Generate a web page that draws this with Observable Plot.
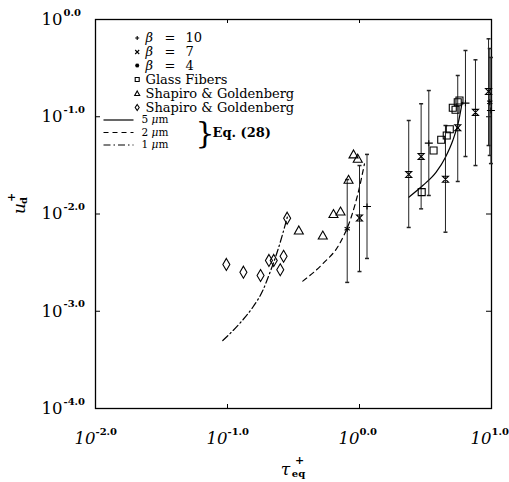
<!DOCTYPE html>
<html><head><meta charset="utf-8">
<script src="https://cdn.jsdelivr.net/npm/d3@7"></script>
<script src="https://cdn.jsdelivr.net/npm/@observablehq/plot@0.6"></script>
<style>body{margin:0;background:#fff} svg{font-family:"DejaVu Serif",serif}</style>
</head><body><div id="chart"></div>
<script>
// ---- tick labels ----
const xTicks = [0.01, 0.1, 1, 10];
const xTickExp = ["-2.0", "-1.0", "0.0", "1.0"];
const yTicks = [1e-4, 1e-3, 1e-2, 1e-1, 1];
const yTickExp = ["-4.0", "-3.0", "-2.0", "-1.0", "0.0"];

// ---- Glass fibers (squares) ----
const glassX = [2.96, 3.64, 4.16, 4.58, 4.83, 5.09, 5.34, 5.55, 5.72];
const glassY = [0.0168, 0.045, 0.058, 0.0642, 0.0745, 0.1236, 0.1179, 0.141, 0.147];
// ---- Shapiro & Goldenberg (triangles) ----
const sgTriX = [0.347, 0.527, 0.635, 0.718, 0.826, 0.901, 0.97];
const sgTriY = [0.00677, 0.0060, 0.0100, 0.0106, 0.0225, 0.041, 0.037];
// ---- Shapiro & Goldenberg (diamonds) ----
const sgDiaX = [0.098, 0.132, 0.178, 0.206, 0.224, 0.251, 0.266, 0.283];
const sgDiaY = [0.00303, 0.00252, 0.00233, 0.00333, 0.00333, 0.00267, 0.00368, 0.00906];

// ---- beta = 10 (plus) with error bars ----
const b10X = [1.14, 3.35, 6.35, 9.9];
const b10Y = [0.01195, 0.0535, 0.138, 0.116];
const b10Lo = [0.00349, 0.0155, 0.039, 0.033];
const b10Hi = [0.041, 0.186, 0.48, 0.407];
// ---- beta = 7 (cross) ----
const b7X = [1.0, 2.36, 2.93, 4.48, 5.55, 7.56, 9.5];
const b7Y = [0.0091, 0.0255, 0.039, 0.0228, 0.077, 0.111, 0.182];
const b7Lo = [0.00256, 0.00727, 0.0113, 0.0065, 0.0216, 0.0315, 0.0506];
const b7Hi = [0.0315, 0.0915, 0.136, 0.0813, 0.2656, 0.385, 0.633];
// ---- beta = 4 (star) ----
const b4X = [0.807, 9.7];
const b4Y = [0.00704, 0.141];
const b4Lo = [0.00198, 0.04];
const b4Hi = [0.0226, 0.503];

// ---- Eq. (28) curves ----
const c5X = [2.363, 3.016, 3.81, 4.48, 5.09, 5.65, 6.0];
const c5Y = [0.01489, 0.01963, 0.0269, 0.0384, 0.057, 0.0915, 0.141];
const c2X = [0.372, 0.527, 0.706, 0.865, 1.0, 1.09];
const c2Y = [0.00204, 0.00308, 0.00494, 0.00927, 0.0189, 0.0328];
const c1X = [0.0921, 0.123, 0.1555, 0.185, 0.208, 0.240, 0.262, 0.286];
const c1Y = [0.0005, 0.000743, 0.0011, 0.00163, 0.00243, 0.00421, 0.00626, 0.00965];

// ---- legend labels ----
const betaLabels = ["10", "7", "4"];
const seriesLabels = ["Glass Fibers", "Shapiro & Goldenberg", "Shapiro & Goldenberg"];
const sizeLabels = ["5", "2", "1"];
const eqLabel = "Eq. (28)";

const pts = (X, Y) => X.map((x, i) => ({x, y: Y[i]}));
const bars = (X, Y, Lo, Hi) => X.map((x, i) => ({x, y: Y[i], lo: Lo[i], hi: Hi[i]}));

const sym = {
  cap: {draw(c) { c.moveTo(-2, 0); c.lineTo(2, 0); }},
  plus: {draw(c) { c.moveTo(-4, 0); c.lineTo(4, 0); c.moveTo(0, -3); c.lineTo(0, 3); }},
  hour: {draw(c) { c.moveTo(-3, -3); c.lineTo(3, -3); c.lineTo(-3, 3); c.lineTo(3, 3); c.closePath(); }},
  star: {draw(c) { for (let a = 0; a < 3; a++) { const t = a * Math.PI / 3 + Math.PI / 2; c.moveTo(-3 * Math.cos(t), -3 * Math.sin(t)); c.lineTo(3 * Math.cos(t), 3 * Math.sin(t)); } }},
  square: {draw(c) { c.rect(-3.5, -3.5, 7, 7); }},
  tri: {draw(c) { c.moveTo(0, -4.5); c.lineTo(4.5, 3.5); c.lineTo(-4.5, 3.5); c.closePath(); }},
  diamond: {draw(c) { c.moveTo(0, -6); c.lineTo(3.5, 0); c.lineTo(0, 6); c.lineTo(-3.5, 0); c.closePath(); }},
  seg: {draw(c) { c.moveTo(-15, 0); c.lineTo(15, 0); }}
};

const B10 = bars(b10X, b10Y, b10Lo, b10Hi);
const B7 = bars(b7X, b7Y, b7Lo, b7Hi);
const B4 = bars(b4X, b4Y, b4Lo, b4Hi);
const allBars = [...B10, ...B7, ...B4];

const LT = (text, dx, dy, o = {}) => Plot.text([text], {frameAnchor: "top-left", text: d => d, dx, dy, textAnchor: "start", lineAnchor: "middle", fontSize: 13, fill: "black", ...o});
const LD = (symbol, dx, dy, o = {}) => Plot.dot([0], {frameAnchor: "top-left", dx, dy, symbol, stroke: "black", fill: "none", strokeWidth: 1.1, ...o});

const markStyle = {stroke: "black", fill: "none", strokeWidth: 1.1};
const betaRows = [18.5, 32.5, 46];
const seriesRows = [60, 74, 88];
const sizeRows = [100.5, 113, 125.5];

const chart = Plot.plot({
  width: 509, height: 482,
  marginLeft: 95, marginRight: 18, marginTop: 19, marginBottom: 74,
  x: {type: "log", domain: [0.01, 10], axis: null},
  y: {type: "log", domain: [1e-4, 1], axis: null},
  marks: [
    Plot.frame({stroke: "black", strokeWidth: 1.3}),
    // inward ticks
    Plot.tickX(xTicks.slice(1, -1), {x: d => d, insetTop: 385, stroke: "black"}),
    Plot.tickX(xTicks.slice(1, -1), {x: d => d, insetBottom: 385, stroke: "black"}),
    Plot.tickY(yTicks.slice(1, -1), {y: d => d, insetRight: 391, stroke: "black"}),
    Plot.tickY(yTicks.slice(1, -1), {y: d => d, insetLeft: 391, stroke: "black"}),
    // tick labels
    Plot.text(xTicks, {x: d => d, frameAnchor: "bottom", dy: 30, text: () => "10", textAnchor: "end", fontSize: 16.5, fontStyle: "italic", lineAnchor: "middle"}),
    Plot.text(xTicks, {x: d => d, frameAnchor: "bottom", dy: 23, text: (d, i) => xTickExp[i], textAnchor: "start", fontSize: 10, fontWeight: "bold", lineAnchor: "middle"}),
    Plot.text(yTicks, {y: d => d, frameAnchor: "left", dx: -33, text: () => "10", textAnchor: "end", fontSize: 16.5, lineAnchor: "middle"}),
    Plot.text(yTicks, {y: d => d, frameAnchor: "left", dx: -32, dy: -7, text: (d, i) => yTickExp[i], textAnchor: "start", fontSize: 10, fontWeight: "bold", lineAnchor: "middle"}),
    // axis titles
    Plot.text(["u"], {frameAnchor: "left", dx: -76, dy: 0, text: d => d, rotate: -90, fontSize: 17, fontStyle: "italic", lineAnchor: "middle"}),
    Plot.text(["d"], {frameAnchor: "left", dx: -72, dy: -10, text: d => d, rotate: -90, fontSize: 10, fontWeight: "bold", lineAnchor: "middle"}),
    Plot.text(["+"], {frameAnchor: "left", dx: -84, dy: -12, text: d => d, rotate: -90, fontSize: 11, fontWeight: "bold", lineAnchor: "middle"}),
    Plot.text(["τ"], {frameAnchor: "bottom", dx: -8, dy: 61, text: d => d, fontSize: 17, fontStyle: "italic", lineAnchor: "middle"}),
    Plot.text(["eq"], {frameAnchor: "bottom", dx: 5, dy: 65, text: d => d, fontSize: 10, fontWeight: "bold", lineAnchor: "middle"}),
    Plot.text(["+"], {frameAnchor: "bottom", dx: 6, dy: 52, text: d => d, fontSize: 11, fontWeight: "bold", lineAnchor: "middle"}),
    // Eq. (28) curves
    Plot.line(pts(c5X, c5Y), {x: "x", y: "y", curve: "monotone-x", stroke: "black", strokeWidth: 1.2}),
    Plot.line(pts(c2X, c2Y), {x: "x", y: "y", curve: "monotone-x", stroke: "black", strokeWidth: 1.2, strokeDasharray: "5,4"}),
    Plot.line(pts(c1X, c1Y), {x: "x", y: "y", curve: "monotone-x", stroke: "black", strokeWidth: 1.2, strokeDasharray: "7,3,1.5,3"}),
    // error bars
    Plot.ruleX(allBars, {x: "x", y1: "lo", y2: "hi", stroke: "#222", strokeWidth: 1}),
    Plot.dot(allBars, {x: "x", y: "lo", symbol: sym.cap, stroke: "#222", fill: "none"}),
    Plot.dot(allBars, {x: "x", y: "hi", symbol: sym.cap, stroke: "#222", fill: "none"}),
    Plot.dot(B10, {x: "x", y: "y", symbol: sym.plus, ...markStyle}),
    Plot.dot(B7, {x: "x", y: "y", symbol: sym.hour, ...markStyle}),
    Plot.dot(B4, {x: "x", y: "y", symbol: sym.star, ...markStyle}),
    // data markers
    Plot.dot(pts(glassX, glassY), {x: "x", y: "y", symbol: sym.square, ...markStyle}),
    Plot.dot(pts(sgTriX, sgTriY), {x: "x", y: "y", symbol: sym.tri, ...markStyle}),
    Plot.dot(pts(sgDiaX, sgDiaY), {x: "x", y: "y", symbol: sym.diamond, ...markStyle}),
    // legend
    LD({draw(c) { c.moveTo(-2, 0); c.lineTo(2, 0); c.moveTo(0, -2); c.lineTo(0, 2); }}, 41.7, betaRows[0]),
    LD({draw(c) { c.moveTo(-2, -2); c.lineTo(2, 2); c.moveTo(2, -2); c.lineTo(-2, 2); }}, 41.7, betaRows[1]),
    LD({draw(c) { c.moveTo(-2, 0); c.lineTo(2, 0); c.moveTo(0, -2); c.lineTo(0, 2); c.moveTo(-1.5, -1.5); c.lineTo(1.5, 1.5); c.moveTo(1.5, -1.5); c.lineTo(-1.5, 1.5); }}, 41.7, betaRows[2]),
    LD({draw(c) { c.rect(-2, -2, 4, 4); }}, 41.7, seriesRows[0]),
    LD({draw(c) { c.moveTo(0, -2.5); c.lineTo(2.5, 2); c.lineTo(-2.5, 2); c.closePath(); }}, 41.7, seriesRows[1]),
    LD({draw(c) { c.moveTo(0, -3); c.lineTo(2, 0); c.lineTo(0, 3); c.lineTo(-2, 0); c.closePath(); }}, 41.7, seriesRows[2]),
    ...betaLabels.map((b, i) => LT("β", 50, betaRows[i], {fontStyle: "italic"})),
    ...betaLabels.map((b, i) => LT("=", 69, betaRows[i])),
    ...betaLabels.map((b, i) => LT(b, 90, betaRows[i])),
    ...seriesLabels.map((s, i) => LT(s, 50, seriesRows[i])),
    LD(sym.seg, 23, sizeRows[0], {strokeWidth: 1.2}),
    LD(sym.seg, 23, sizeRows[1], {strokeWidth: 1.2, strokeDasharray: "5,4"}),
    LD(sym.seg, 23, sizeRows[2], {strokeWidth: 1.2, strokeDasharray: "7,3,1.5,3"}),
    ...sizeLabels.map((s, i) => LT(s, 46, sizeRows[i], {fontSize: 10.5})),
    ...sizeLabels.map((s, i) => LT("μ", 56, sizeRows[i], {fontSize: 10.5, fontStyle: "italic"})),
    ...sizeLabels.map((s, i) => LT("m", 63, sizeRows[i], {fontSize: 10.5})),
    LT("}", 100, 113.5, {fontSize: 30, fontWeight: "200"}),
    LT(eqLabel, 117, 113, {fontSize: 13, fontWeight: "bold"})
  ]
});
document.getElementById("chart").appendChild(chart);
</script>
</body></html>
